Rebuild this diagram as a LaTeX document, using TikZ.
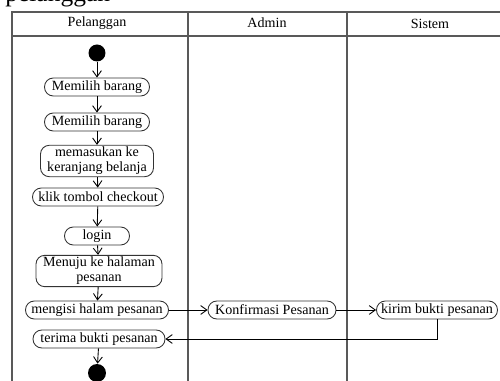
\documentclass[tikz,border=0pt]{standalone}
\usepackage{fontspec}
\setmainfont{Liberation Serif}
\usepackage{xcolor}
\usepackage{tikz}
\usetikzlibrary{arrows.meta, positioning}
\colorlet{lanegray}{black!65}
\tikzset{
  act/.style={draw=black!80, rounded corners=5pt, line width=0.5pt, align=center,
    font=\fontsize{8}{8.6}\selectfont, inner xsep=2pt, inner ysep=1pt,
    minimum height=0.36cm},
  startdot/.style={circle, fill=black, inner sep=0pt, minimum size=0.34cm},
  flow/.style={-{Straight Barb[length=3.5pt, width=5pt]}, line width=0.5pt},
  lane/.style={draw=lanegray, line width=0.7pt},
  lanetitle/.style={font=\fontsize{8}{9}\selectfont}
}

\begin{document}
\begin{tikzpicture}[x=0.02cm, y=-0.02cm]
    \useasboundingbox (0,0) rectangle (500,381);
    \clip (0,0) rectangle (500,381);
    % caption line cut off above
    \node[anchor=base west, inner sep=0pt, font=\fontsize{14.5}{16}\selectfont] (caption) at (5,2) {pelanggan};
    % swimlanes
    \draw[lane] (520,12) -- (12,12) -- (12,400);
    \draw[lane] (12,36) -- (520,36);
    \draw[lane] (188,12) -- (188,400);
    \draw[lane] (347,12) -- (347,400);
    \node[lanetitle] (lanePel) at (97,23) {Pelanggan};
    \node[lanetitle] (laneAdm) at (267,23) {Admin};
    \node[lanetitle] (laneSis) at (430,24) {Sistem};
    % Pelanggan
    \node[startdot] (start) at (97,53) {};
    \node[act, minimum width=2.1cm] (pilih1) at (97,87) {Memilih barang};
    \node[act, minimum width=2.1cm] (pilih2) at (97,122) {Memilih barang};
    \node[act, minimum width=2.26cm, minimum height=0.52cm] (keranjang) at (97,161) {memasukan ke\\keranjang belanja};
    \node[act, minimum width=2.62cm] (checkout) at (98,197) {klik tombol checkout};
    \node[act, minimum width=1.3cm] (login) at (97,236) {login};
    \node[act, minimum width=2.52cm, minimum height=0.56cm] (halaman) at (99,271) {Menuju ke halaman\\pesanan};
    \node[act, minimum width=2.86cm] (isi) at (97,310) {mengisi halam pesanan};
    \node[act, minimum width=2.64cm] (terima) at (99,339) {terima bukti pesanan};
    \node[startdot, minimum size=0.36cm] (stop) at (97,373) {};
    % Admin & Sistem
    \node[act, minimum width=2.56cm] (konfirmasi) at (272,310) {Konfirmasi Pesanan};
    \node[act, minimum width=2.42cm] (kirim) at (437,310) {kirim bukti pesanan};
    \draw[flow] (start) -- (pilih1);
    \draw[flow] (pilih1) -- (pilih2);
    \draw[flow] (pilih2) -- (keranjang);
    \draw[flow] (keranjang) -- (checkout);
    \draw[flow] (checkout) -- (login);
    \draw[flow] (login) -- (halaman);
    \draw[flow] (halaman) -- (isi);
    \draw[flow] (isi) -- (konfirmasi);
    \draw[flow] (konfirmasi) -- (kirim);
    \draw[flow] (kirim.south) |- (terima.east);
    \draw[flow] (terima) -- (stop);
  \end{tikzpicture}
\end{document}
